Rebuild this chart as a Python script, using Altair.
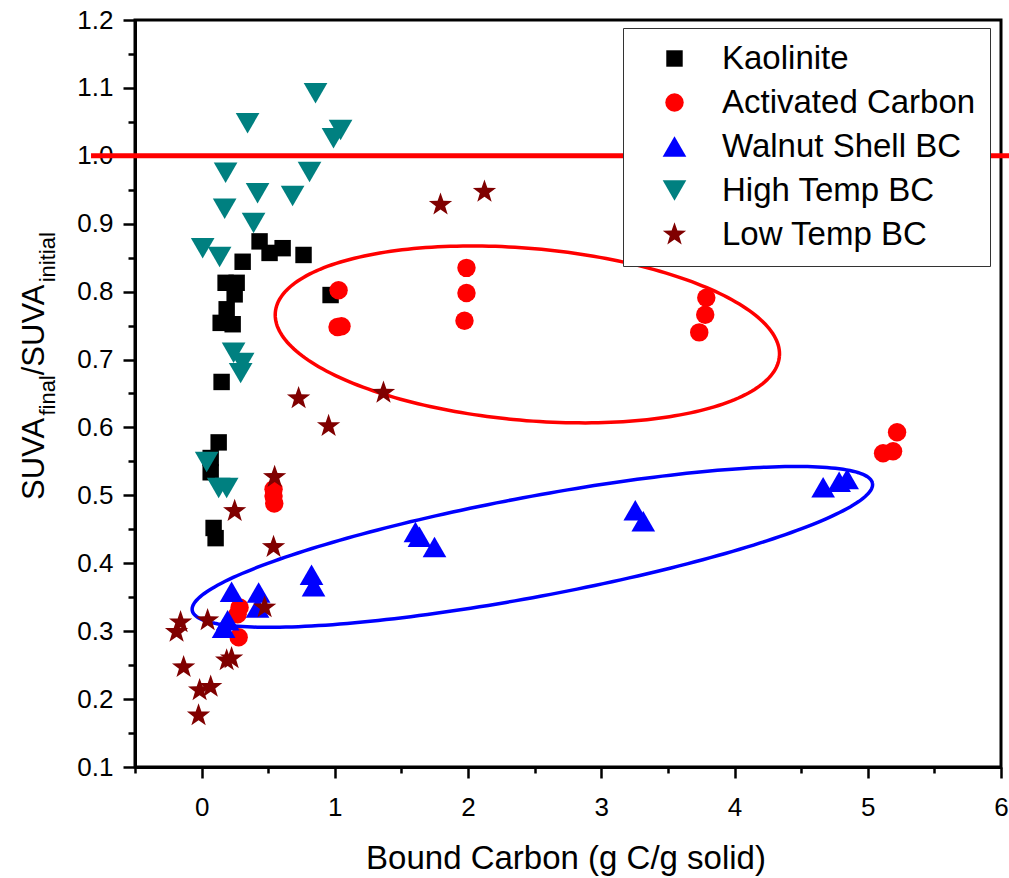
import altair as alt
import pandas as pd
import numpy as np

# ---------------- data ----------------
series_names = ["Kaolinite", "Activated Carbon", "Walnut Shell BC", "High Temp BC", "Low Temp BC"]

kaolinite_x = [0.435, 0.51, 0.608, 0.765, 0.308, 0.18, 0.263, 0.248, 0.188, 0.143, 0.233, 0.15, 0.968, 0.128, 0.068, 0.068, 0.09, 0.105]
kaolinite_y = [0.874, 0.857, 0.864, 0.854, 0.844, 0.813, 0.813, 0.796, 0.774, 0.754, 0.752, 0.667, 0.795, 0.578, 0.555, 0.534, 0.452, 0.437]

activated_x = [1.028, 1.02, 1.05, 1.988, 1.988, 1.973, 3.788, 3.78, 3.735, 0.54, 0.54, 0.545, 0.285, 0.27, 0.278, 5.22, 5.19, 5.115]
activated_y = [0.802, 0.748, 0.749, 0.835, 0.798, 0.757, 0.791, 0.766, 0.74, 0.509, 0.499, 0.488, 0.335, 0.325, 0.291, 0.593, 0.565, 0.562]

walnut_x = [0.165, 0.195, 0.225, 0.42, 0.428, 0.825, 0.84, 1.605, 1.635, 1.748, 3.255, 3.315, 4.665, 4.785, 4.845]
walnut_y = [0.305, 0.316, 0.358, 0.335, 0.357, 0.383, 0.366, 0.446, 0.439, 0.424, 0.478, 0.462, 0.512, 0.52, 0.524]

hightemp_x = [0.855, 0.345, 1.043, 0.99, 0.18, 0.81, 0.42, 0.683, 0.173, 0.39, 0.008, 0.135, 0.24, 0.308, 0.293, 0.038, 0.128, 0.188]
hightemp_y = [1.092, 1.048, 1.038, 1.026, 0.975, 0.976, 0.945, 0.941, 0.922, 0.901, 0.864, 0.851, 0.71, 0.695, 0.68, 0.549, 0.511, 0.511]

lowtemp_x = [1.793, 2.123, 1.365, 0.953, 0.728, 0.548, 0.248, 0.54, 0.473, 0.045, -0.158, -0.188, -0.135, 0.188, 0.225, 0.068, -0.015, -0.023]
lowtemp_y = [0.928, 0.947, 0.651, 0.602, 0.643, 0.527, 0.477, 0.424, 0.335, 0.316, 0.313, 0.299, 0.247, 0.257, 0.26, 0.218, 0.213, 0.176]

x_ticks = [-0.5, 0, 0.5, 1, 1.5, 2, 2.5, 3, 3.5, 4, 4.5, 5, 5.5, 6]
y_ticks = [round(0.1 + 0.05 * i, 2) for i in range(23)]

reference_level = 1.0

# ellipse annotations (center in data units, semi-axes in px, tilt deg)
red_ellipse = dict(cx=2.445, cy=0.737, a=253, b=86, phi=5.0)
blue_ellipse = dict(cx=2.4825, cy=0.4241, a=346, b=50, phi=-10.6)

# ---------------- style ----------------
colors = ["#000000", "#FF0000", "#0000FF", "#008080", "#800000"]
star_path = ("M0,-1L0.235,-0.324L0.951,-0.309L0.38,0.124L0.588,0.809L0,0.4L-0.588,0.809"
             "L-0.38,0.124L-0.951,-0.309L-0.235,-0.324Z")
shapes = ["square", "circle", "triangle-up", "triangle-down", star_path]
sizes = [270, 340, 560, 560, 600]

W, H = 866, 747
XMIN, XMAX = -0.5, 6.0
YMIN, YMAX = 0.1, 1.2
kx = W / (XMAX - XMIN)
ky = H / (YMAX - YMIN)
FONT = "Liberation Sans"

rows = []
for name, xs, ys in zip(series_names,
                        [kaolinite_x, activated_x, walnut_x, hightemp_x, lowtemp_x],
                        [kaolinite_y, activated_y, walnut_y, hightemp_y, lowtemp_y]):
    for xv, yv in zip(xs, ys):
        rows.append({"series": name, "x": xv, "y": yv})
points_df = pd.DataFrame(rows)


def ellipse_df(e, name):
    t = np.linspace(0, 2 * np.pi, 241)
    ph = np.deg2rad(e["phi"])
    dx = e["a"] * np.cos(t) * np.cos(ph) - e["b"] * np.sin(t) * np.sin(ph)
    dy = e["a"] * np.cos(t) * np.sin(ph) + e["b"] * np.sin(t) * np.cos(ph)
    return pd.DataFrame({"x": e["cx"] + dx / kx, "y": e["cy"] - dy / ky, "i": np.arange(len(t)), "e": name})


xscale = alt.Scale(domain=[XMIN, XMAX], nice=False, zero=False)
yscale = alt.Scale(domain=[YMIN, YMAX], nice=False, zero=False)

x_major = "abs(datum.value - round(datum.value)) < 0.001"
y_major = "abs(datum.value*10 - round(datum.value*10)) < 0.001"

x_axis = alt.Axis(values=x_ticks, title=None, grid=False,
                  labelExpr=f"({x_major}) ? format(datum.value, 'd') : ''",
                  tickSize={"condition": {"test": x_major, "value": 11}, "value": 6},
                  labelFontSize=26, labelFont=FONT, labelColor="black", labelPadding=16,
                  domainColor="black", domainWidth=3, tickColor="black", tickWidth=2.5,
                  labelFlush=False, labelOverlap=False)
y_axis = alt.Axis(values=y_ticks, title=None, grid=False,
                  labelExpr=f"({y_major}) ? format(datum.value, '.1f') : ''",
                  tickSize={"condition": {"test": y_major, "value": 12}, "value": 7},
                  labelFontSize=26, labelFont=FONT, labelColor="black", labelPadding=10,
                  domainColor="black", domainWidth=3, tickColor="black", tickWidth=2.5,
                  labelFlush=False, labelOverlap=False)

base_x = alt.X("x:Q", scale=xscale, axis=x_axis)
base_y = alt.Y("y:Q", scale=yscale, axis=y_axis)

# reference line
line_df = pd.DataFrame({"x": [-0.83], "x2": [6.1], "y": [reference_level]})
ref_line = alt.Chart(line_df).mark_rule(color="#FF0000", strokeWidth=5).encode(
    x=alt.X("x:Q", scale=xscale, axis=x_axis), x2="x2:Q", y=alt.Y("y:Q", scale=yscale, axis=y_axis))

red_e = alt.Chart(ellipse_df(red_ellipse, "red")).mark_line(color="#FF0000", strokeWidth=3.5).encode(
    x=base_x, y=base_y, order="i:Q")
blue_e = alt.Chart(ellipse_df(blue_ellipse, "blue")).mark_line(color="#0000FF", strokeWidth=3.5).encode(
    x=base_x, y=base_y, order="i:Q")

legend = alt.Legend(orient="none", legendX=488, legendY=8, title=None,
                    labelFontSize=33, labelFont=FONT, labelColor="black", labelLimit=500,
                    padding=14, rowPadding=10, symbolOffset=21, labelOffset=31,
                    strokeColor="#333333", fillColor="white", symbolStrokeWidth=0)

pts = alt.Chart(points_df).mark_point(filled=True, opacity=1, strokeWidth=0).encode(
    x=base_x, y=base_y,
    color=alt.Color("series:N", scale=alt.Scale(domain=series_names, range=colors), legend=legend),
    shape=alt.Shape("series:N", scale=alt.Scale(domain=series_names, range=shapes), legend=legend),
    size=alt.Size("series:N", scale=alt.Scale(type="ordinal", domain=series_names, range=sizes), legend=legend),
    order=alt.Order("order:Q"),
).transform_calculate(order="indexof(" + str(series_names) + ", datum.series)")

# axis titles (with subscripts for y)
ytitle_df = pd.DataFrame({"t": ["SUVA", "final", "/SUVA", "initial"],
                          "px": [-91, -80, -91, -80],
                          "py": [480, 395.6, 355.3, 262.3],
                          "fs": [31, 22, 31, 22]})
ytitle_layers = []
for _, r in ytitle_df.iterrows():
    ytitle_layers.append(
        alt.Chart(pd.DataFrame({"t": [r["t"]]})).mark_text(
            angle=270, align="left", baseline="alphabetic", font=FONT, fontSize=float(r["fs"]), color="black"
        ).encode(text="t:N", x=alt.value(float(r["px"])), y=alt.value(float(r["py"])))
    )

xtitle = alt.Chart(pd.DataFrame({"t": ["Bound Carbon (g C/g solid)"]})).mark_text(
    align="center", baseline="alphabetic", font=FONT, fontSize=33, color="black"
).encode(text="t:N", x=alt.value(W / 2 - 2), y=alt.value(849))

chart = alt.layer(ref_line, red_e, blue_e, pts, xtitle, *ytitle_layers).properties(
    width=W, height=H,
    autosize=alt.AutoSizeParams(type="none"),
    padding={"left": 135, "top": 20, "right": 8, "bottom": 111},
    background="white",
).configure_view(stroke="black", strokeWidth=3)

chart.save("out.html", embed_options={"renderer": "svg", "actions": False})
